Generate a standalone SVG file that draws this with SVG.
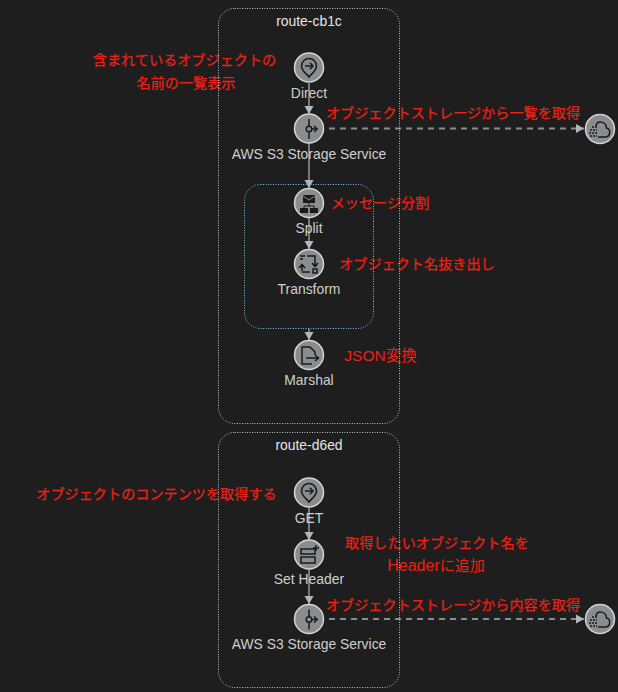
<svg xmlns="http://www.w3.org/2000/svg" width="618" height="692" viewBox="0 0 618 692">
<style>
.bg{fill:#1e1e1e}
.route{fill:none;stroke:#b8c8cc;stroke-width:1;stroke-dasharray:1 1.5}
.sub{fill:none;stroke:#7fc4d8;stroke-width:1;stroke-dasharray:1 1.5}
.conn{stroke:#77797c;stroke-width:2;fill:none}
.dash{stroke:#8a8d90;stroke-width:2;fill:none;stroke-dasharray:6 5}
.disc{fill:#8a8d90;stroke:#d4d4d4;stroke-width:1.5}
.ic{fill:none;stroke:#1a1a1a;stroke-width:1.5}
.icf{fill:#1a1a1a;stroke:none}
.lbl{font-family:"Liberation Sans",Arial,sans-serif;font-size:13.9px;fill:#cfcfcf;text-anchor:middle}
.ttl{font-family:"Liberation Sans",Arial,sans-serif;font-size:13.9px;fill:#e6e6e6;text-anchor:middle}
.note{font-family:"Liberation Sans","Noto Sans CJK JP",sans-serif;font-size:14.15px;fill:#f01f14;stroke:#f01f14;stroke-width:.25;text-anchor:middle}
.big{stroke:none}
</style>
<defs>
<marker id="arr" markerWidth="9" markerHeight="10" refX="8" refY="5" orient="auto" markerUnits="userSpaceOnUse"><path d="M0 .5L8 5L0 9.500Z" fill="#b4b6b8"/></marker>
<g id="ic-dir"><path class="ic" d="M0 9.500C-2.500 6-7.500 3.500-7.500 -1.500A7.500 7.500 0 0 1 7.500 -1.500C7.500 3.500 2.500 6 0 9.500Z"/><path class="ic" d="M-4 -1.500H4M.8 -4.700L4 -1.500L.8 1.700"/></g>
<g id="ic-s3"><path class="ic" d="M0 -10V-3M0 3V10M3 0H8M5 -3L8.200 0L5 3"/><circle cx="0" cy="0" r="2.800" fill="none" stroke="#1a1a1a" stroke-width="1.500"/></g>
<g id="ic-cl"><path class="ic" d="M-2 8H5C11 8 11 0 6.500 -1C6 -8 -3 -9 -4 -3"/><path d="M-10 7H-3M-11 4H-3M-10 1H-3M-8 -2H-3" stroke="#1a1a1a" stroke-width="1.3" stroke-dasharray="2 1" fill="none"/></g>
</defs>
<rect class="bg" width="618" height="692"/>
<g id="notes">
<text class="note" x="184.500" y="65">含まれているオブジェクトの</text>
<text class="note" x="186" y="88">名前の一覧表示</text>
<text class="note" x="453" y="118">オブジェクトストレージから一覧を取得</text>
<text class="note" x="380" y="208">メッセージ分割</text>
<text class="note" x="417" y="269">オブジェクト名抜き出し</text>
<text class="note big" x="380.500" y="360.500" style="font-size:15.5px">JSON変換</text>
<text class="note" x="156.500" y="499">オブジェクトのコンテンツを取得する</text>
<text class="note" x="437" y="548">取得したいオブジェクト名を</text>
<text class="note big" x="436" y="571"><tspan style="font-size:16px">Header</tspan><tspan style="font-size:15px">に追加</tspan></text>
<text class="note" x="453" y="610">オブジェクトストレージから内容を取得</text>
</g>
<g id="connectors">
<path class="conn" d="M309 83V114" marker-end="url(#arr)"/>
<path class="conn" d="M309 143V188" marker-end="url(#arr)"/>
<path class="conn" d="M309 218V249" marker-end="url(#arr)"/>
<path class="conn" d="M309 329V340" marker-end="url(#arr)"/>
<path class="conn" d="M309 508V540" marker-end="url(#arr)"/>
<path class="conn" d="M309 569V604" marker-end="url(#arr)"/>
<path class="dash" d="M329 128.500H584" marker-end="url(#arr)"/>
<path class="dash" d="M329 619H584" marker-end="url(#arr)"/>
</g>
<g id="route-cb1c"><rect class="route" x="218.500" y="8.500" width="181" height="415" rx="16"/><text class="ttl" x="309" y="26">route-cb1c</text></g>
<g id="group-split"><rect class="sub" x="244.500" y="184.500" width="129" height="144" rx="16"/></g>
<g id="route-d6ed"><rect class="route" x="218.500" y="432.500" width="181" height="255" rx="16"/><text class="ttl" x="309" y="450">route-d6ed</text></g>
<g id="node-direct"><circle class="disc" cx="309" cy="67.500" r="14.500"/><use href="#ic-dir" x="309" y="67.500"/><text class="lbl" x="309" y="97.500">Direct</text></g>
<g id="node-s3a"><circle class="disc" cx="309" cy="128.500" r="14.500"/><use href="#ic-s3" x="309" y="129"/><text class="lbl" x="309" y="159">AWS S3 Storage Service</text></g>
<g id="node-split"><circle class="disc" cx="309" cy="203" r="14.500"/><path class="icf" d="M303 195H315V203H303Z"/><path d="M303 196L309 200L315 196" stroke="#8a8d90" fill="none"/><path d="M309 203V206M304 208V206H314V208" stroke="#1a1a1a" fill="none"/><path class="icf" d="M300 208H308V213H300ZM310 208H318V213H310Z"/><text class="lbl" x="309" y="232.500">Split</text></g>
<g id="node-transform"><circle class="disc" cx="309" cy="264" r="14.500"/><path class="ic" d="M300 256H305M300 259H303M307 256H315V266M312 263L315 266.500L318 263M302 271V265M299 268L302 264.500L305 268M302 272H310"/><rect class="ic" x="313" y="269" width="4" height="4"/><text class="lbl" x="309" y="293.500">Transform</text></g>
<g id="node-marshal"><circle class="disc" cx="309" cy="355" r="14.500"/><path class="ic" d="M312 364H302V347H310L315 352V355" stroke-width="2"/><path class="ic" d="M306 358H318M315 355L318.500 358L315 361"/><text class="lbl" x="309" y="384.500">Marshal</text></g>
<g id="node-get"><circle class="disc" cx="309" cy="492.500" r="14.500"/><use href="#ic-dir" x="309" y="492.500"/><text class="lbl" x="309" y="522.500">GET</text></g>
<g id="node-setheader"><circle class="disc" cx="309" cy="554.500" r="14.500"/><rect class="ic" x="301" y="549" width="14" height="5"/><rect class="ic" x="301" y="557" width="14" height="6"/><path class="ic" d="M313 548H319M316 545V551"/><text class="lbl" x="309" y="583.500">Set Header</text></g>
<g id="node-s3b"><circle class="disc" cx="309" cy="619" r="14.500"/><use href="#ic-s3" x="309" y="619.500"/><text class="lbl" x="309" y="649">AWS S3 Storage Service</text></g>
<g id="node-cloud-a"><circle class="disc" cx="600" cy="129" r="14.500"/><use href="#ic-cl" x="600" y="129"/></g>
<g id="node-cloud-b"><circle class="disc" cx="600" cy="619" r="14.500"/><use href="#ic-cl" x="600" y="619"/></g>
</svg>
